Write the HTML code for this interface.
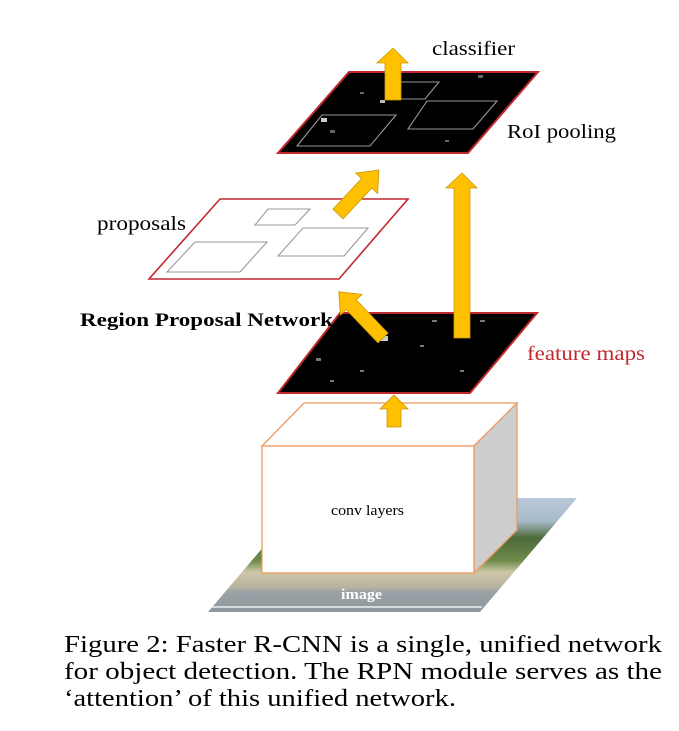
<!DOCTYPE html>
<html><head><meta charset="utf-8"><style>
body{margin:0;background:#fff;width:679px;height:731px;overflow:hidden}
svg{display:block}
</style></head><body>
<svg width="679" height="731" viewBox="0 0 679 731" xmlns="http://www.w3.org/2000/svg" font-family="Liberation Serif, serif">
<defs>
<linearGradient id="img" x1="0" y1="0" x2="0" y2="1">
<stop offset="0" stop-color="#b8c8d8"/>
<stop offset="0.2" stop-color="#a9bccb"/>
<stop offset="0.35" stop-color="#4d6a3a"/>
<stop offset="0.55" stop-color="#6f8a4a"/>
<stop offset="0.65" stop-color="#cfc6a8"/>
<stop offset="0.78" stop-color="#b9b3a0"/>
<stop offset="0.82" stop-color="#9aa3a6"/>
<stop offset="1" stop-color="#8e989c"/>
</linearGradient>
</defs>
<polygon points="208,612 480,612 577,498 305,498" fill="url(#img)"/>
<line x1="212" y1="607" x2="482" y2="607" stroke="#eee" stroke-width="1.5"/>
<text x="341" y="599" font-size="15" font-weight="bold" fill="#fff" textLength="41" lengthAdjust="spacingAndGlyphs">image</text>
<polygon points="262,446 304,403 517,403 474,446" fill="#fff" stroke="#ee9a5e" stroke-width="1.3"/>
<polygon points="474,446 517,403 517,530 474,573" fill="#cdcdcd" stroke="#ee9a5e" stroke-width="1.3"/>
<rect x="262" y="446" width="212" height="127" fill="#fff" stroke="#ee9a5e" stroke-width="1.3"/>
<text x="331" y="515" font-size="15" textLength="73" lengthAdjust="spacingAndGlyphs">conv layers</text>
<polygon points="387,427 401,427 401,409 408,409 394,395 380,409 387,409" fill="#ffc000" stroke="#c9970a" stroke-width="0.8"/>
<polygon points="278,393 470,393 537,313 340,313" fill="#000" stroke="#c0282e" stroke-width="2"/>
<g fill="#777">
<rect x="316" y="358" width="5" height="3"/><rect x="380" y="336" width="8" height="5" fill="#ccc"/><rect x="420" y="345" width="4" height="2"/><rect x="432" y="320" width="5" height="2"/><rect x="480" y="320" width="5" height="2"/><rect x="360" y="370" width="4" height="2"/><rect x="330" y="380" width="4" height="2"/><rect x="460" y="370" width="4" height="2"/>
</g>
<polygon points="454,338 470,338 470,188 477,188 462,173 446,188 454,188" fill="#ffc000" stroke="#c9970a" stroke-width="0.8"/>
<g transform="translate(383,338) rotate(-133.7)">
<polygon points="0,-7 46,-7 46,-15 64,0 46,15 46,7 0,7" fill="#ffc000" stroke="#c9970a" stroke-width="0.8"/>
</g>
<polygon points="149,279 339,279 408,199 220,199" fill="#fff" stroke="#c0282e" stroke-width="1.6"/>
<g fill="none" stroke="#999" stroke-width="1.1">
<polygon points="167,272 240,272 267,242 195,242"/>
<polygon points="278,256 344,256 368,228 303,228"/>
<polygon points="255,225 295,225 310,209 268,209"/>
</g>
<g transform="translate(338,214) rotate(-47)">
<polygon points="0,-7 42,-7 42,-15 60,0 42,15 42,7 0,7" fill="#ffc000" stroke="#c9970a" stroke-width="0.8"/>
</g>
<polygon points="278,153 468,153 538,72 349,72" fill="#000" stroke="#c0282e" stroke-width="2"/>
<g fill="#666">
<rect x="321" y="118" width="6" height="4" fill="#ccc"/><rect x="330" y="130" width="5" height="3"/><rect x="380" y="100" width="5" height="3" fill="#bbb"/><rect x="478" y="75" width="5" height="3"/><rect x="445" y="140" width="4" height="2"/><rect x="360" y="92" width="4" height="2"/>
</g>
<g fill="none" stroke="#999" stroke-width="1.1">
<polygon points="297,146 370,146 396,115 322,115"/>
<polygon points="408,129 473,129 497,101 427,101"/>
<polygon points="395,99 425,99 439,82 400,82"/>
</g>
<polygon points="385,100 401,100 401,63 408,63 393,48 377,63 385,63" fill="#ffc000" stroke="#c9970a" stroke-width="0.8"/>
<text x="432" y="55" font-size="20" textLength="83" lengthAdjust="spacingAndGlyphs">classifier</text>
<text x="507" y="138" font-size="20" textLength="109" lengthAdjust="spacingAndGlyphs">RoI pooling</text>
<text x="97" y="230" font-size="20" textLength="89" lengthAdjust="spacingAndGlyphs">proposals</text>
<text x="80" y="326" font-size="19" font-weight="bold" textLength="253" lengthAdjust="spacingAndGlyphs">Region Proposal Network</text>
<text x="527" y="360" font-size="20" fill="#c0282e" textLength="118" lengthAdjust="spacingAndGlyphs">feature maps</text>
<text x="64" y="652" font-size="24" textLength="598" lengthAdjust="spacingAndGlyphs">Figure 2: Faster R-CNN is a single, unified network</text>
<text x="64" y="679" font-size="24" textLength="598" lengthAdjust="spacingAndGlyphs">for object detection. The RPN module serves as the</text>
<text x="64" y="706" font-size="24" textLength="392" lengthAdjust="spacingAndGlyphs">‘attention’ of this unified network.</text>
</svg>
</body></html>
